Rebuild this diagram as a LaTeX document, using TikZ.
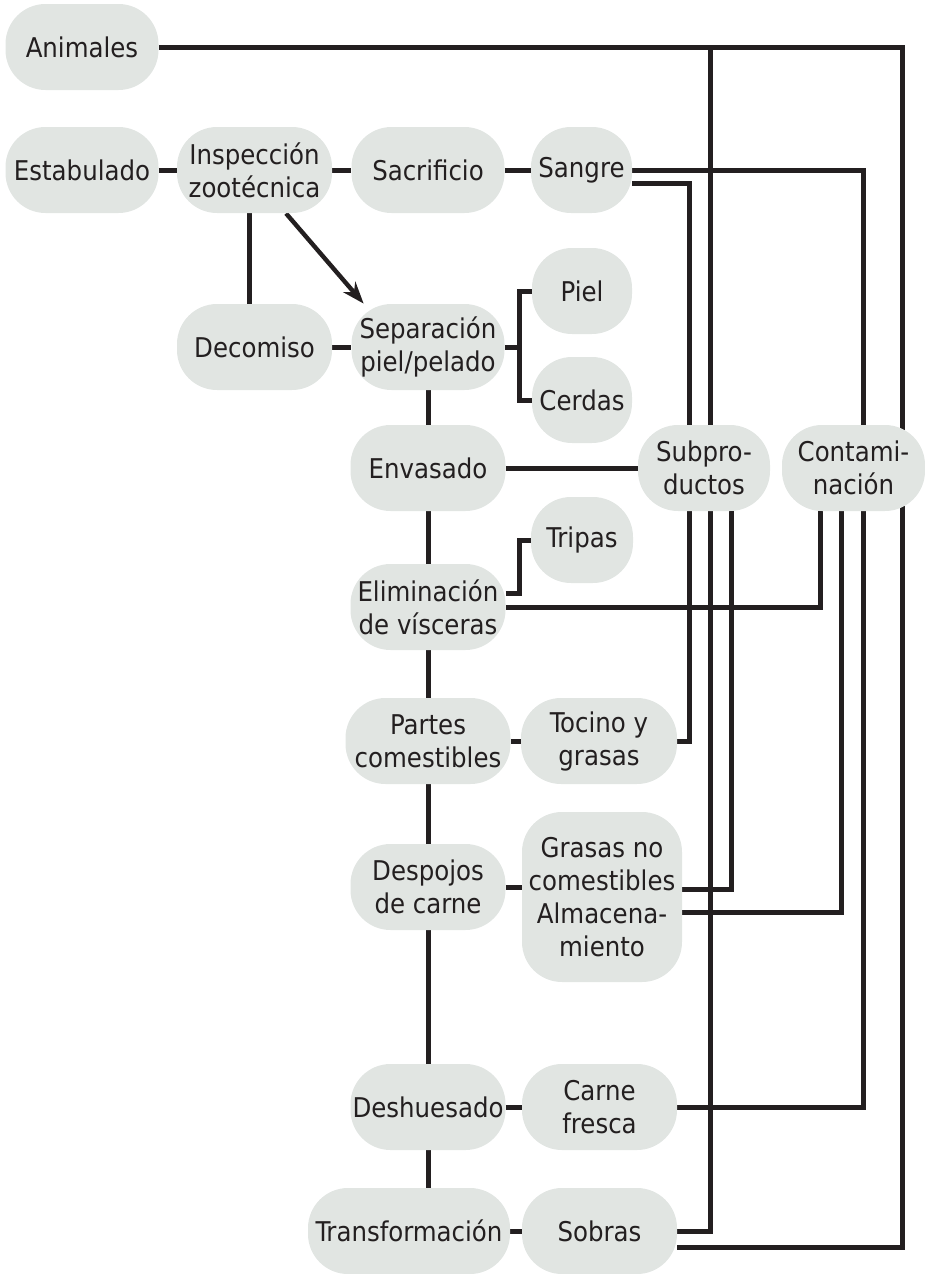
\documentclass[tikz,border=0pt]{standalone}
\usepackage{fontspec}
\setmainfont{DejaVu Sans Condensed}
\usetikzlibrary{backgrounds,arrows.meta}
\definecolor{stagefill}{RGB}{225,229,226}
\definecolor{ink}{RGB}{35,31,32}

\begin{document}
\begin{tikzpicture}[x=0.5pt,y=-0.5pt,
font=\fontsize{13.6}{16.5}\selectfont,
stage/.style={fill=stagefill, text=ink, rounded corners=20pt, align=center,
    inner sep=0pt, minimum height=43pt},
wire/.style={draw=ink, line width=2.5pt},
flow/.style={wire, line width=2.2pt, -{Stealth[length=11pt,width=8pt]}}]
\useasboundingbox (0,0) rectangle (925,1274);
\node[stage, minimum width=76.5pt] (anim) at (82,47) {Animales};
\node[stage, minimum width=76.5pt] (estab) at (82,170) {Estabulado};
\node[stage, minimum width=77.5pt] (insp) at (254.5,170) {Inspección\\zootécnica};
\node[stage, minimum width=76.5pt] (sacr) at (428,170) {Sacrificio};
\node[stage, minimum width=50.5pt] (sangre) at (581.5,170) {Sangre};
\node[stage, minimum width=50pt] (piel) at (582,291) {Piel};
\node[stage, minimum width=77.5pt] (decom) at (254.5,347) {Decomiso};
\node[stage, minimum width=76.5pt] (separ) at (428,347) {Separación\\piel/pelado};
\node[stage, minimum width=50pt] (cerdas) at (582,400) {Cerdas};
\node[stage, minimum width=77.5pt] (envas) at (428,468) {Envasado};
\node[stage, minimum width=66pt] (subpr) at (704,468) {Subpro-\\ductos};
\node[stage, minimum width=71.5pt] (contam) at (853.5,468) {Contami-\\nación};
\node[stage, minimum width=51pt] (tripas) at (582,540) {Tripas};
\node[stage, minimum width=77.5pt] (elimin) at (428,607) {Eliminación\\de vísceras};
\node[stage, minimum width=82.5pt] (partes) at (428,741) {Partes\\comestibles};
\node[stage, minimum width=78pt] (tocino) at (599,741) {Tocino y\\grasas};
\node[stage, minimum width=77.5pt] (despoj) at (428,887) {Despojos\\de carne};
\node[stage, minimum width=80pt, minimum height=85pt] (grasas) at (602,897)
    {Grasas no\\comestibles\\Almacena-\\miento};
\node[stage, minimum width=77.5pt] (deshue) at (428,1107) {Deshuesado};
\node[stage, minimum width=77.5pt] (carne) at (599.5,1107) {Carne\\fresca};
\node[stage, minimum width=101pt] (transf) at (409,1231) {Transformación};
\node[stage, minimum width=77.5pt] (sobras) at (599.5,1231) {Sobras};
\begin{scope}[on background layer]
\draw[wire] (estab) -- (insp);
\draw[wire] (insp) -- (sacr);
\draw[wire] (sacr) -- (sangre);
\draw[wire] (decom) -- (separ);
\draw[wire] (envas) -- (subpr);
\draw[wire] (partes) -- (tocino);
\draw[wire] (despoj.east) -- (despoj.east -| grasas.west);
\draw[wire] (deshue) -- (carne);
\draw[wire] (transf) -- (sobras);
\draw[wire] (separ) -- (envas) -- (elimin) -- (partes) -- (despoj) -- (deshue);
\draw[wire] (deshue.south) -- (deshue.south |- transf.north);
\draw[wire] ([xshift=-2.75pt]insp.south) -- ([xshift=-2.75pt]decom.north);
\draw[flow] (insp.-54.6) -- (separ.146);
\draw[wire] (separ.east) -- ++(7.5pt,0);
\draw[wire] (piel.west) -- ++(-6pt,0) |- (cerdas.west);
\draw[wire] ([yshift=7pt]elimin.east) -- ++(7pt,0) |- (tripas.west);
\draw[wire] (anim.east) -| (902,1247) -- ([yshift=-8pt]sobras.east);
\draw[wire] (sobras.east) -| (710,46);
\draw[wire] (sangre.east) -| (863,1107) -- (carne.east);
\draw[wire] ([yshift=-6.5pt]sangre.east) -| (689,741) -- (tocino.east);
\draw[wire] ([xshift=13.5pt]subpr.south) |- ([yshift=4pt]grasas.east);
\draw[wire] ([xshift=-16.5pt]contam.south) |- (elimin.east);
\draw[wire] ([xshift=-6pt]contam.south) |- ([yshift=-7.5pt]grasas.east);
\end{scope}
\end{tikzpicture}
\end{document}
